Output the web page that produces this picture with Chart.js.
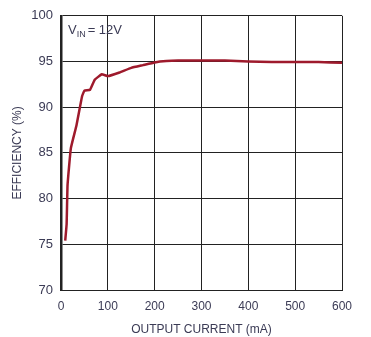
<!DOCTYPE html>
<html>
<head>
<meta charset="utf-8">
<script src="https://cdn.jsdelivr.net/npm/chart.js@4"></script>
<style>
  html, body { margin: 0; padding: 0; background: #fff; }
  #wrap { width: 371px; height: 337px; }
</style>
</head>
<body>
<div id="wrap"><canvas id="eff"></canvas></div>
<script>
// output current (mA) and efficiency (%)
const currentMA = [9, 12, 14, 21, 33, 45, 50, 62, 72, 87, 100, 125, 150, 175, 200, 225, 250, 300, 350, 400, 450, 500, 550, 600];
const efficiency = [75.4, 77.2, 81.5, 85.5, 88, 91.2, 91.8, 91.9, 93, 93.6, 93.4, 93.8, 94.3, 94.6, 94.9, 95.05, 95.1, 95.1, 95.1, 95.0, 94.95, 94.95, 94.95, 94.85];
const xTicks = [0, 100, 200, 300, 400, 500, 600];
const yTicks = [70, 75, 80, 85, 90, 95, 100];

const FONT = 'Liberation Sans, Arial, sans-serif';
const TEXT = '#3b3b55';

// V_IN label with subscript
const vinLabel = {
    id: 'vinLabel',
    afterDraw(chart) {
        const { ctx, chartArea } = chart;
        ctx.save();
        ctx.fillStyle = TEXT;
        ctx.textBaseline = 'alphabetic';
        let x = chartArea.left + 7;
        const y = chartArea.top + 18;
        ctx.font = '13px ' + FONT;
        ctx.fillText('V', x, y);
        x += ctx.measureText('V').width;
        ctx.font = '9px ' + FONT;
        ctx.fillText('IN', x, y + 3);
        x += ctx.measureText('IN').width + 2;
        ctx.font = '13px ' + FONT;
        ctx.fillText('= 12V', x, y);
        ctx.restore();
    }
};

const points = currentMA.map((c, i) => ({ x: c, y: efficiency[i] }));

new Chart(document.getElementById('eff').getContext('2d'), {
    type: 'line',
    data: {
        datasets: [{
            data: points,
            borderColor: '#9e1a2c',
            borderWidth: 2.5,
            pointRadius: 0,
            tension: 0.1,
            fill: false
        }]
    },
    options: {
        responsive: true,
        maintainAspectRatio: false,
        animation: false,
        layout: { padding: { top: 11, right: 29, left: 0, bottom: 0 } },
        plugins: { legend: { display: false }, tooltip: { enabled: false } },
        scales: {
            x: {
                type: 'linear',
                min: 0,
                max: 600,
                afterBuildTicks: s => { s.ticks = xTicks.map(v => ({ value: v })); },
                afterFit: s => { s.height = 47; },
                grid: { color: '#222', lineWidth: 1, drawTicks: false },
                border: { color: '#222', width: 1 },
                ticks: { color: TEXT, font: { family: FONT, size: 12 }, padding: 9, maxRotation: 0 },
                title: { display: true, text: 'OUTPUT CURRENT (mA)', color: TEXT, font: { family: FONT, size: 12 }, padding: { top: 0, bottom: 0 } }
            },
            y: {
                min: 70,
                max: 100,
                afterBuildTicks: s => { s.ticks = yTicks.map(v => ({ value: v })); },
                afterFit: s => { s.width = 61; },
                grid: { color: '#222', lineWidth: 1, drawTicks: false },
                border: { color: '#222', width: 2.5 },
                ticks: { color: TEXT, font: { family: FONT, size: 13 }, padding: 8 },
                title: { display: true, text: 'EFFICIENCY (%)', color: TEXT, font: { family: FONT, size: 12 }, padding: { top: 10, bottom: 0 } }
            }
        }
    },
    plugins: [vinLabel]
});
</script>
</body>
</html>
